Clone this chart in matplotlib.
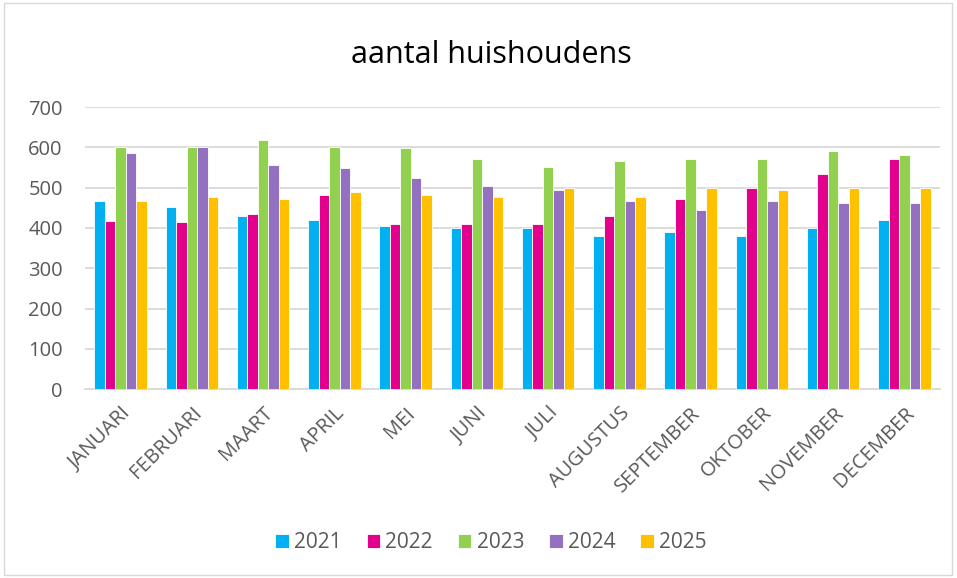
import matplotlib
matplotlib.use("Agg")
import matplotlib.pyplot as plt
import numpy as np
from matplotlib.patches import Rectangle

months = ["JANUARI", "FEBRUARI", "MAART", "APRIL", "MEI", "JUNI", "JULI",
          "AUGUSTUS", "SEPTEMBER", "OKTOBER", "NOVEMBER", "DECEMBER"]
years = ["2021", "2022", "2023", "2024", "2025"]
v2021 = [468, 453, 429, 419, 404, 399, 399, 379, 389, 379, 399, 419]
v2022 = [418, 414, 434, 483, 409, 409, 409, 429, 473, 498, 533, 572]
v2023 = [600, 600, 617, 600, 599, 572, 552, 567, 572, 572, 592, 582]
v2024 = [587, 600, 557, 548, 523, 503, 493, 468, 444, 468, 463, 463]
v2025 = [468, 478, 473, 488, 483, 478, 498, 478, 498, 493, 498, 498]
series = [v2021, v2022, v2023, v2024, v2025]
colors = ["#00B0F0", "#E3008C", "#92D050", "#9370C0", "#FFC000"]
yticks = [0, 100, 200, 300, 400, 500, 600, 700]

plt.rcParams['font.family'] = ['Open Sans', 'DejaVu Sans']
fig = plt.figure(figsize=(9.57, 5.78), dpi=100)
ax = fig.add_axes([85/957, 1-389.3/578, (940-85)/957, (389.3-107)/578])

x = np.arange(len(months))
bw = 0.147
for i, (vals, c, lab) in enumerate(zip(series, colors, years)):
    ax.bar(x + (i - 2) * bw, vals, width=bw, color=c, edgecolor="white",
           linewidth=0.6, label=lab, zorder=3)

ax.set_xlim(-0.5, len(months) - 0.5)
ax.set_ylim(0, 700)
ax.set_yticks(yticks)
ax.set_yticklabels([str(t) for t in yticks], fontsize=14.5, color="#595959")
ax.yaxis.grid(True, color="#D9D9D9", linewidth=1.3, zorder=0)
ax.set_axisbelow(True)
for s in ["top", "right", "left"]:
    ax.spines[s].set_visible(False)
ax.spines["bottom"].set_color("#D9D9D9")
ax.spines["bottom"].set_linewidth(1.3)
ax.tick_params(axis="y", length=0, pad=16)
ax.set_xticks(x)
ax.set_xticklabels(months, rotation=45, ha="right", va="top",
                   rotation_mode="anchor", fontsize=14.5, color="#595959")
ax.tick_params(axis="x", length=0, pad=10)

fig.text(0.513, 1 - 55/578, "aantal huishoudens", ha="center", va="center",
         fontsize=22, color="#000000")

leg = fig.legend(loc="center", bbox_to_anchor=(0.513, 1 - 543/578), ncol=5,
                 frameon=False, fontsize=15, handlelength=0.65,
                 handleheight=0.65, handletextpad=0.25, columnspacing=1.2)
for t in leg.get_texts():
    t.set_color("#595959")

fig.patches.append(Rectangle((4/957, 3/578), 948/957, 572/578,
                             transform=fig.transFigure, fill=False,
                             edgecolor="#D9D9D9", linewidth=1))

fig.savefig("out.png", dpi=100)
